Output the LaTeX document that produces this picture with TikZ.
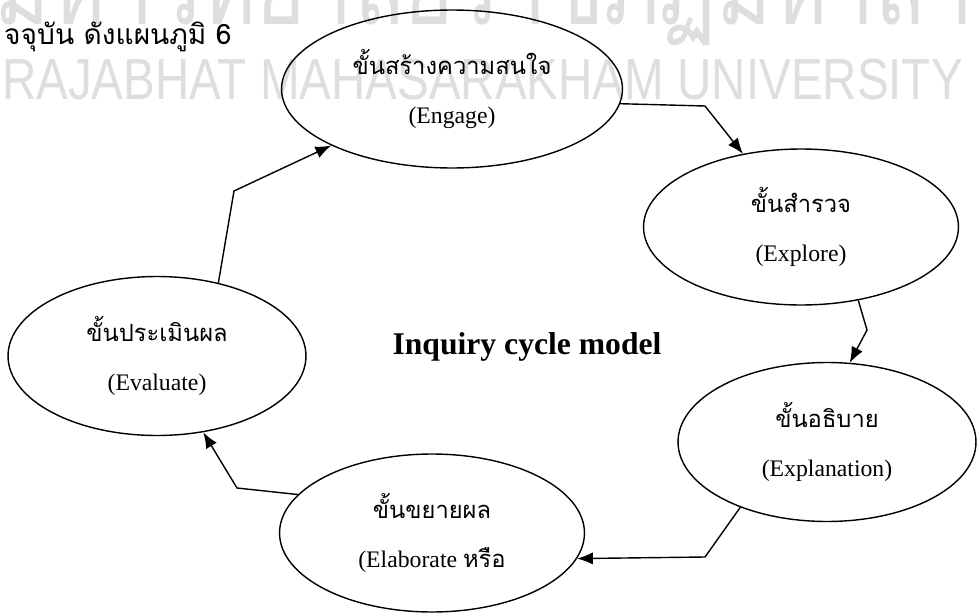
\documentclass[tikz,border=0pt]{standalone}
\usepackage{fontspec}
\setmainfont{Liberation Serif}
\newfontfamily\thaifont[Script=Thai]{Loma}
\newfontfamily\wmfont{Liberation Sans}
\usetikzlibrary{arrows.meta,shapes.geometric}
\begin{document}
\begin{tikzpicture}[x=0.02cm, y=-0.02cm,
  stage/.style={draw, ellipse, line width=0.8pt, inner sep=0pt, align=center,
    font=\fontsize{13.5}{28}\selectfont},
  flow/.style={line width=0.8pt, -{Latex[length=9pt,width=7pt]}},
  stamp/.style={text=black!13, anchor=base west}]
\useasboundingbox (0,0) rectangle (980,615);
\fill[white] (0,0) rectangle (980,615);
% faint stamp of the scan
\node[stamp, font=\thaifont\fontsize{60}{60}\selectfont, xscale=0.8] (wmth) at (-10,25) {มหาวิทยาลัยราชภัฏมหาสารคาม};
\node[stamp, font=\wmfont\fontsize{33}{33}\selectfont, xscale=0.82] (wmen) at (-3,100) {RAJABHAT MAHASARAKHAM UNIVERSITY};
\node[anchor=base west, font=\thaifont\fontsize{16}{16}\selectfont] (caption) at (-2,45) {จจุบัน ดังแผนภูมิ 6};
% the five stages
\node[stage, minimum width=6.82cm, minimum height=3.16cm] (engage) at (452,89) {{\thaifont ขั้นสร้างความสนใจ}\\(Engage)};
\node[stage, minimum width=6.3cm, minimum height=3.12cm] (explore) at (801,227) {{\thaifont ขั้นสำรวจ}\\(Explore)};
\node[stage, minimum width=5.96cm, minimum height=3.18cm] (explanation) at (827,442) {{\thaifont ขั้นอธิบาย}\\(Explanation)};
\node[stage, minimum width=6.1cm, minimum height=3.16cm] (elaborate) at (432,533) {{\thaifont ขั้นขยายผล}\\(Elaborate {\thaifont หรือ}};
\node[stage, minimum width=5.96cm, minimum height=3.18cm] (evaluate) at (157,356) {{\thaifont ขั้นประเมินผล}\\(Evaluate)};
\node[font=\bfseries\fontsize{18}{18}\selectfont] (title) at (527,347) {Inquiry cycle model};
% bends of the arrows
\coordinate (bendA) at (234,191);
\coordinate (bendB) at (705,106);
\coordinate (bendC) at (867,330);
\coordinate (bendD) at (705,557);
\coordinate (bendE) at (237,488);
\draw[flow] (evaluate.50) -- (bendA) -- (engage);
\draw[flow] (engage.-5) -- (bendB) -- (explore);
\draw[flow] (explore.-52) -- (bendC) -- (explanation.74);
\draw[flow] (explanation.217) -- (bendD) -- (elaborate.-10);
\draw[flow] (elaborate.164) -- (bendE) -- (evaluate);
\end{tikzpicture}
\end{document}
